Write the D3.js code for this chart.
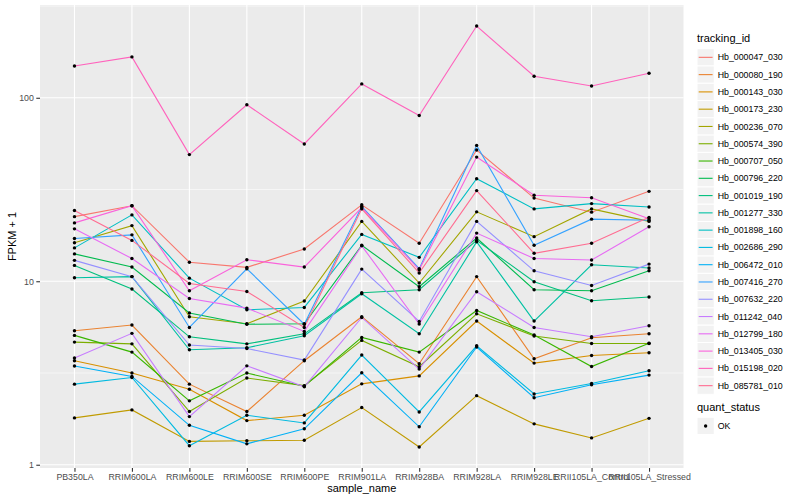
<!DOCTYPE html>
<html>
<head>
<meta charset="utf-8">
<script src="https://cdn.jsdelivr.net/npm/d3@7"></script>
<style>
  html, body { margin: 0; padding: 0; background: #fff; }
  svg { display: block; font-family: "Liberation Sans", Arial, sans-serif; }
</style>
</head>
<body>
<div id="chart"></div>
<script>
const samples = [
  "PB350LA", "RRIM600LA", "RRIM600LE", "RRIM600SE", "RRIM600PE", "RRIM901LA",
  "RRIM928BA", "RRIM928LA", "RRIM928LE", "RRII105LA_Control", "RRII105LA_Stressed",
];

const trackingIds = [
  "Hb_000047_030", "Hb_000080_190", "Hb_000143_030", "Hb_000173_230", "Hb_000236_070",
  "Hb_000574_390", "Hb_000707_050", "Hb_000796_220", "Hb_001019_190", "Hb_001277_330",
  "Hb_001898_160", "Hb_002686_290", "Hb_006472_010", "Hb_007416_270", "Hb_007632_220",
  "Hb_011242_040", "Hb_012799_180", "Hb_013405_030", "Hb_015198_020", "Hb_085781_010",
];

// FPKM + 1, one value per sample
const Hb_000047_030 = [22.5, 25.8, 12.7, 11.9, 15.0, 26.1, 16.1, 51.9, 28.4, 23.8, 30.9];
const Hb_000080_190 = [5.37, 5.77, 2.75, 1.95, 3.69, 6.41, 3.55, 10.6, 3.78, 4.92, 5.17];
const Hb_000143_030 = [3.69, 3.16, 2.58, 1.74, 1.86, 2.76, 3.05, 6.07, 3.58, 3.94, 4.08];
const Hb_000173_230 = [1.80, 1.99, 1.34, 1.35, 1.36, 2.05, 1.25, 2.38, 1.67, 1.40, 1.79];
const Hb_000236_070 = [16.2, 20.1, 6.41, 5.87, 7.80, 21.2, 9.78, 23.9, 17.5, 24.8, 21.2];
const Hb_000574_390 = [4.66, 4.56, 1.95, 2.97, 2.70, 4.76, 3.42, 6.65, 5.03, 4.58, 4.58];
const Hb_000707_050 = [5.07, 4.11, 2.23, 3.16, 2.68, 4.94, 4.11, 6.93, 5.09, 3.43, 4.59];
const Hb_000796_220 = [14.1, 11.95, 6.71, 5.83, 5.87, 15.7, 9.33, 17.2, 8.99, 8.87, 11.4];
const Hb_001019_190 = [12.2, 9.07, 4.98, 4.56, 5.17, 8.66, 8.99, 16.7, 9.94, 7.83, 8.20];
const Hb_001277_330 = [10.45, 10.6, 4.23, 4.34, 5.05, 8.55, 5.17, 16.4, 6.07, 12.3, 11.8];
const Hb_001898_160 = [15.2, 23.0, 10.4, 6.99, 7.20, 18.0, 13.5, 36.2, 24.8, 26.5, 25.4];
const Hb_002686_290 = [2.75, 2.99, 1.27, 1.86, 1.69, 3.96, 1.94, 4.45, 2.43, 2.77, 3.25];
const Hb_006472_010 = [3.45, 3.03, 1.64, 1.30, 1.57, 3.17, 1.61, 4.38, 2.32, 2.73, 3.08];
const Hb_007416_270 = [17.1, 17.9, 5.60, 11.7, 5.83, 25.6, 11.7, 55.0, 15.7, 21.8, 21.5];
const Hb_007632_220 = [13.0, 10.6, 4.49, 4.30, 3.72, 11.65, 6.04, 21.2, 11.4, 9.49, 12.4];
const Hb_011242_040 = [3.82, 5.20, 1.83, 3.46, 2.66, 6.35, 3.32, 8.77, 5.60, 4.98, 5.72];
const Hb_012799_180 = [19.3, 13.3, 8.06, 7.14, 5.33, 15.6, 5.84, 18.3, 13.3, 13.05, 19.8];
const Hb_013405_030 = [20.8, 25.8, 8.87, 13.1, 11.95, 25.2, 11.55, 47.5, 29.4, 28.5, 21.9];
const Hb_015198_020 = [149, 167, 49, 91.6, 56, 119, 80, 246, 131, 116, 136];
const Hb_085781_010 = [24.3, 16.7, 9.73, 8.80, 5.60, 24.8, 11.1, 31.2, 14.2, 16.1, 22.3];

const seriesValues = [
  Hb_000047_030, Hb_000080_190, Hb_000143_030, Hb_000173_230, Hb_000236_070,
  Hb_000574_390, Hb_000707_050, Hb_000796_220, Hb_001019_190, Hb_001277_330,
  Hb_001898_160, Hb_002686_290, Hb_006472_010, Hb_007416_270, Hb_007632_220,
  Hb_011242_040, Hb_012799_180, Hb_013405_030, Hb_015198_020, Hb_085781_010,
];

const majorTicks = [1, 10, 100];
const minorTicks = [Math.pow(10, 0.5), Math.pow(10, 1.5), Math.pow(10, 2.5)];
const quantStatus = ["OK"];

// ggplot hue palette for 20 levels
const palette = [
  "#F8766D", "#EA8331", "#D89000", "#C09B00", "#A3A500", "#7CAE00", "#39B600",
  "#00BB4E", "#00BF7D", "#00C1A3", "#00BFC4", "#00BAE0", "#00B0F6", "#35A2FF",
  "#9590FF", "#C77CFF", "#E76BF3", "#FA62DB", "#FF62BC", "#FF6C91",
];

class ExpressionChart {
  constructor(el) {
    this.el = el;
    this.setup();
    this.scaffold();
    this.render();
  }

  setup() {
    this.width = 800;
    this.height = 500;
    this.marginTop = 5;
    this.marginRight = 116.5;
    this.marginBottom = 32;
    this.marginLeft = 40;

    this.series = trackingIds.map((id, i) => ({
      id,
      color: palette[i],
      values: seriesValues[i].map((v, j) => ({ sample: samples[j], value: v })),
    }));

    const all = this.series.flatMap((s) => s.values.map((d) => Math.log10(d.value)));
    const lo = d3.min(all);
    const hi = d3.max(all);
    const pad = (hi - lo) * 0.05;

    this.x = d3
      .scalePoint()
      .domain(samples)
      .range([this.marginLeft, this.width - this.marginRight])
      .padding(0.6);
    this.y = d3
      .scaleLog()
      .domain([Math.pow(10, lo - pad), Math.pow(10, hi + pad)])
      .range([this.height - this.marginBottom, this.marginTop]);

    this.linePath = d3
      .line()
      .x((d) => this.x(d.sample))
      .y((d) => this.y(d.value));
  }

  scaffold() {
    this.svg = d3
      .select(this.el)
      .append("svg")
      .attr("width", this.width)
      .attr("height", this.height)
      .attr("viewBox", [0, 0, this.width, this.height]);

    this.gPanel = this.svg.append("g").attr("class", "panel-g");
    this.gLines = this.svg.append("g").attr("class", "lines-g");
    this.gDots = this.svg.append("g").attr("class", "dots-g");
    this.gY = this.svg.append("g").attr("class", "axis-g axis-g--y");
    this.gX = this.svg.append("g").attr("class", "axis-g axis-g--x");
    this.gLegend = this.svg.append("g").attr("class", "legend-g");
  }

  render() {
    this.renderPanel();
    this.renderLines();
    this.renderDots();
    this.renderYAxis();
    this.renderXAxis();
    this.renderLegend();
  }

  renderPanel() {
    const [x0, x1] = this.x.range();
    const [y0, y1] = this.y.range();
    this.gPanel
      .append("rect")
      .attr("x", x0)
      .attr("y", y1)
      .attr("width", x1 - x0)
      .attr("height", y0 - y1)
      .attr("fill", "#EBEBEB");

    this.gPanel
      .selectAll(".grid-minor")
      .data(minorTicks.filter((d) => d >= this.y.domain()[0] && d <= this.y.domain()[1]))
      .join("line")
      .attr("class", "grid-minor")
      .attr("x1", x0)
      .attr("x2", x1)
      .attr("y1", (d) => this.y(d))
      .attr("y2", (d) => this.y(d))
      .attr("stroke", "#fff")
      .attr("stroke-width", 0.55);

    this.gPanel
      .selectAll(".grid-major-y")
      .data(majorTicks)
      .join("line")
      .attr("class", "grid-major-y")
      .attr("x1", x0)
      .attr("x2", x1)
      .attr("y1", (d) => this.y(d))
      .attr("y2", (d) => this.y(d))
      .attr("stroke", "#fff")
      .attr("stroke-width", 1.1);

    this.gPanel
      .selectAll(".grid-major-x")
      .data(samples)
      .join("line")
      .attr("class", "grid-major-x")
      .attr("x1", (d) => this.x(d))
      .attr("x2", (d) => this.x(d))
      .attr("y1", y1)
      .attr("y2", y0)
      .attr("stroke", "#fff")
      .attr("stroke-width", 1.1);
  }

  renderLines() {
    this.gLines
      .selectAll(".series-path")
      .data(this.series)
      .join("path")
      .attr("class", "series-path")
      .attr("fill", "none")
      .attr("stroke", (d) => d.color)
      .attr("stroke-width", 1.1)
      .attr("d", (d) => this.linePath(d.values));
  }

  renderDots() {
    this.gDots
      .selectAll(".dot")
      .data(this.series.flatMap((s) => s.values))
      .join("circle")
      .attr("class", "dot")
      .attr("cx", (d) => this.x(d.sample))
      .attr("cy", (d) => this.y(d.value))
      .attr("r", 1.7)
      .attr("fill", "#000");
  }

  renderYAxis() {
    const axis = d3
      .axisLeft(this.y)
      .tickValues(majorTicks)
      .tickFormat(d3.format("d"))
      .tickSize(3.7)
      .tickPadding(2.5);

    this.gY
      .attr("transform", `translate(${this.marginLeft},0)`)
      .call(axis)
      .call((g) => g.select(".domain").remove())
      .call((g) => g.selectAll(".tick line").attr("stroke", "#333").attr("stroke-width", 1.1))
      .call((g) =>
        g
          .selectAll(".tick text")
          .attr("fill", "#4D4D4D")
          .attr("font-size", 8.8)
          .attr("font-family", null)
      );

    const [y0, y1] = this.y.range();
    this.gY
      .append("text")
      .attr("class", "axis-title")
      .attr("fill", "#000")
      .attr("font-size", 11)
      .attr("text-anchor", "middle")
      .attr("transform", `translate(${-this.marginLeft + 16},${(y0 + y1) / 2})rotate(-90)`)
      .text("FPKM + 1");
  }

  renderXAxis() {
    const axis = d3.axisBottom(this.x).tickSize(3.7).tickPadding(2.5);

    this.gX
      .attr("transform", `translate(0,${this.height - this.marginBottom})`)
      .call(axis)
      .call((g) => g.select(".domain").remove())
      .call((g) => g.selectAll(".tick line").attr("stroke", "#333").attr("stroke-width", 1.1))
      .call((g) =>
        g
          .selectAll(".tick text")
          .attr("fill", "#4D4D4D")
          .attr("font-size", 8.8)
          .attr("font-family", null)
      );

    const [x0, x1] = this.x.range();
    this.gX
      .append("text")
      .attr("class", "axis-title")
      .attr("fill", "#000")
      .attr("font-size", 11)
      .attr("text-anchor", "middle")
      .attr("x", (x0 + x1) / 2)
      .attr("y", this.marginBottom - 8)
      .text("sample_name");
  }

  renderLegend() {
    const left = 697;
    const keySize = 17.28;
    const keysTop = 48.7;

    this.gLegend
      .append("text")
      .attr("x", left)
      .attr("y", keysTop - 6.7)
      .attr("font-size", 11)
      .attr("fill", "#000")
      .text("tracking_id");

    const item = this.gLegend
      .selectAll(".legend-item")
      .data(this.series)
      .join("g")
      .attr("class", "legend-item")
      .attr("transform", (d, i) => `translate(${left},${keysTop + i * keySize})`);

    item
      .append("rect")
      .attr("width", keySize)
      .attr("height", keySize)
      .attr("fill", "#F2F2F2")
      .attr("stroke", "#fff")
      .attr("stroke-width", 1);
    item
      .append("line")
      .attr("x1", 1.7)
      .attr("x2", keySize - 1.7)
      .attr("y1", keySize / 2)
      .attr("y2", keySize / 2)
      .attr("stroke", (d) => d.color)
      .attr("stroke-width", 1.1);
    item
      .append("text")
      .attr("x", keySize + 3.4)
      .attr("y", keySize / 2)
      .attr("dy", "0.35em")
      .attr("font-size", 8.8)
      .attr("fill", "#000")
      .text((d) => d.id);

    const statusTop = keysTop + trackingIds.length * keySize + 23;

    this.gLegend
      .append("text")
      .attr("x", left)
      .attr("y", statusTop - 6.7)
      .attr("font-size", 11)
      .attr("fill", "#000")
      .text("quant_status");

    const status = this.gLegend
      .selectAll(".status-item")
      .data(quantStatus)
      .join("g")
      .attr("class", "status-item")
      .attr("transform", (d, i) => `translate(${left},${statusTop + i * keySize})`);

    status
      .append("rect")
      .attr("width", keySize)
      .attr("height", keySize)
      .attr("fill", "#F2F2F2")
      .attr("stroke", "#fff")
      .attr("stroke-width", 1);
    status
      .append("circle")
      .attr("cx", keySize / 2)
      .attr("cy", keySize / 2)
      .attr("r", 1.7)
      .attr("fill", "#000");
    status
      .append("text")
      .attr("x", keySize + 3.4)
      .attr("y", keySize / 2)
      .attr("dy", "0.35em")
      .attr("font-size", 8.8)
      .attr("fill", "#000")
      .text((d) => d);
  }
}

new ExpressionChart(document.getElementById("chart"));
</script>
</body>
</html>
